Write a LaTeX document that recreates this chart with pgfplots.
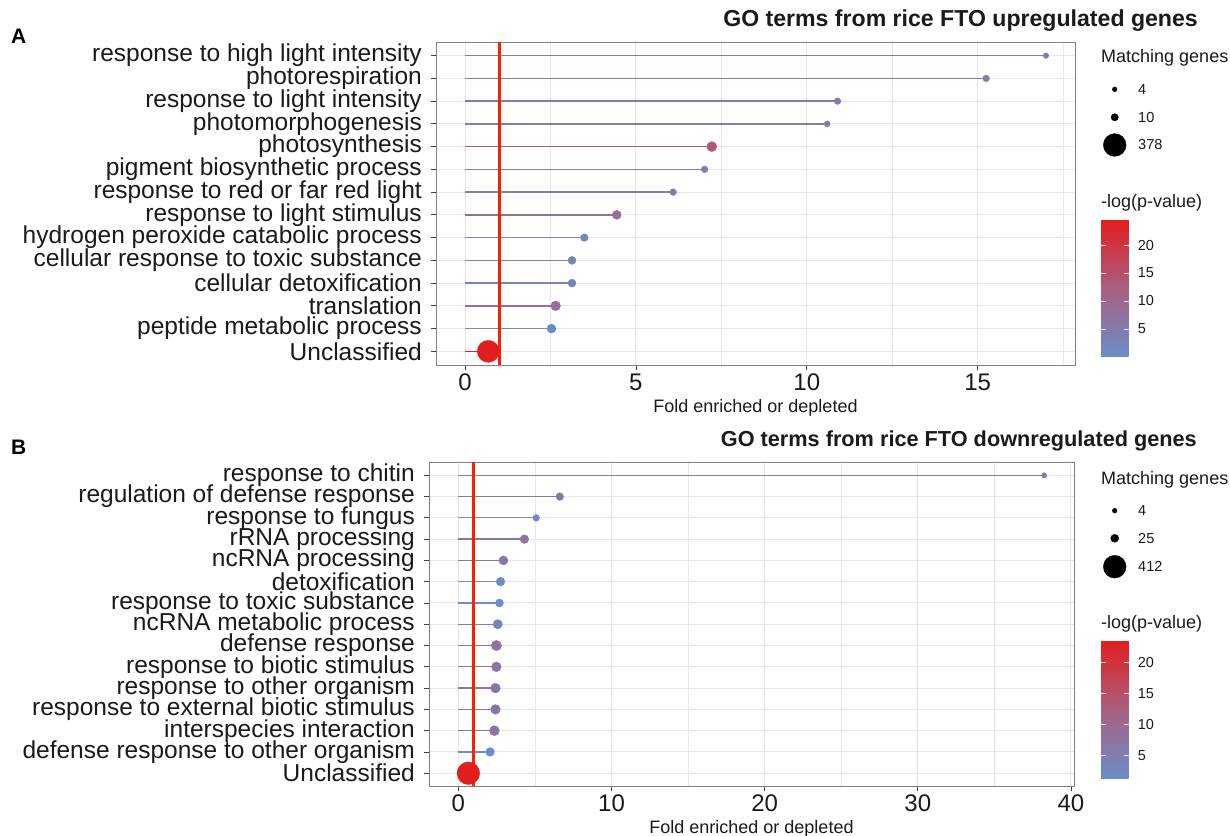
\documentclass[border=0pt]{standalone}
\usepackage{pgfplots}
\pgfplotsset{compat=1.18}
\usepackage{pgfplotstable}
\usepackage{fontspec}
\setmainfont{Liberation Sans}
\usetikzlibrary{calc}
\definecolor{vred}{RGB}{255,30,0}
\definecolor{gridc}{RGB}{232,232,232}
\definecolor{txt}{RGB}{26,26,26}
\pgfplotsset{colormap={gor}{rgb255(0cm)=(106,142,200); rgb255(1cm)=(168,96,128); rgb255(2cm)=(226,30,30)}}
\newcommand{\fY}{\fontsize{24.5}{26}\selectfont}
\newcommand{\fX}{\fontsize{24}{26}\selectfont}
\newcommand{\fL}{\fontsize{18}{20}\selectfont}
\newcommand{\fS}{\fontsize{14.5}{16}\selectfont}

\pgfplotstableread{
y  fx    r     lp    z
14 17.00 2.75  4.8   0
13 15.25 3.35  5.5   0
12 10.90 3.35  5.0   0
11 10.60 3.00  4.5   0
10 7.22  5.00  14.0  0
9  7.01  3.35  4.0   0
8  6.09  3.35  4.0   0
7  4.44  4.50  8.5   0
6  3.49  3.85  2.0   0
5  3.13  4.00  3.0   0
4  3.13  4.00  3.0   0
3  2.65  4.85  8.0   0
2  2.53  4.50  0.5   0
1  0.68  11.0  24.6  0
}\dataA

\pgfplotstableread{
y  fx    r     lp    z
15 38.25 2.65  4.6   0
14 6.62  3.85  7.0   0
13 5.08  3.35  2.1   0
12 4.31  4.35  7.8   0
11 2.94  4.50  7.0   0
10 2.75  4.35  2.1   0
9  2.68  4.00  1.8   0
8  2.57  4.65  4.2   0
7  2.48  5.15  8.0   0
6  2.48  4.85  7.5   0
5  2.42  4.85  7.5   0
4  2.42  4.85  7.2   0
3  2.35  5.00  7.2   0
2  2.07  4.35  1.4   0
1  0.65  11.3  23.5  0
}\dataB

\pgfplotsset{
  lolli/.style={
    scale only axis,
    tick pos=left,
    tick align=outside,
    major tick length=5pt,
    minor tick length=0pt,
    tick style={black!75, line width=0.8pt},
    axis line style={black!50, line width=0.9pt},
    xmajorgrids, xminorgrids, ymajorgrids,
    major grid style={draw=gridc, line width=1pt},
    minor grid style={draw=gridc, line width=0.6pt},
    colormap name=gor,
    yticklabel style={font=\fY, text=txt, inner sep=0pt, xshift=-9pt},
    xticklabel style={font=\fX, text=txt},
    xlabel style={font=\fL, text=txt, at={(axis description cs:0.5,-0.133)}, anchor=center},
    /pgf/number format/assume math mode=true,
    colorbar,
    colorbar shift/.style={},
    colorbar/width=27.7pt,
  },
  cbar/.style={
    scale only axis,
    width=27.7pt,
    xmin=0, xmax=1, enlargelimits=false,
    ytick={5,10,15,20},
    axis line style={draw=none},
    ytick style={draw=white!85!gray, line width=0.8pt},
    major tick length=5pt,
    tick align=inside,
    ytick pos=both,
    yticklabel pos=right,
    yticklabel style={font=\fS, text=txt, anchor=west, inner sep=0pt, xshift=9pt},
    /pgf/number format/assume math mode=true,
  },
  lines/.style={quiver={u=\thisrow{fx}, v=\thisrow{z}, colored=mapped color}, line width=1.3pt, point meta=\thisrow{lp}},
  dots/.style={scatter, only marks, mark=*, point meta=\thisrow{lp},
    scatter/use mapped color={draw=mapped color, fill=mapped color},
    visualization depends on={\thisrow{r} \as \rad},
    scatter/@pre marker code/.append style={/tikz/mark size=\rad}},
}

\begin{document}
\begin{tikzpicture}
\path[use as bounding box] (0pt,0pt) rectangle (1230pt,835pt);

% Panel A
\begin{axis}[lolli,
  at={(436pt,470pt)}, anchor=south west,
  width=639pt, height=323pt,
  xmin=-0.85, xmax=17.85, ymin=0.4, ymax=14.6,
  xtick={0,5,10,15}, minor xtick={2.5,7.5,12.5,17.5},
  ytick={1,...,14},
  yticklabels={Unclassified, peptide metabolic process, translation, cellular detoxification, cellular response to toxic substance, hydrogen peroxide catabolic process, response to light stimulus, response to red or far red light, pigment biosynthetic process, photosynthesis, photomorphogenesis, response to light intensity, photorespiration, response to high light intensity},
  xlabel={Fold enriched or depleted},
  point meta min=0.05, point meta max=24.6,
  colorbar style={cbar, height=137.4pt, at={($(parent axis.north east)+(26pt,-177.3pt)$)}, anchor=north west},
]
\addplot[lines] table[x=z, y=y] {\dataA};
\addplot[dots] table[x=fx, y=y] {\dataA};
\addplot[draw=vred, line width=3pt] coordinates {(1,0.4) (1,14.6)};
\end{axis}

% Panel B
\begin{axis}[lolli,
  at={(429pt,49pt)}, anchor=south west,
  width=645pt, height=323.5pt,
  xmin=-1.92, xmax=40.2, ymin=0.4, ymax=15.6,
  xtick={0,10,20,30,40}, minor xtick={5,15,25,35},
  ytick={1,...,15},
  yticklabels={Unclassified, defense response to other organism, interspecies interaction, response to external biotic stimulus, response to other organism, response to biotic stimulus, defense response, ncRNA metabolic process, response to toxic substance, detoxification, ncRNA processing, rRNA processing, response to fungus, regulation of defense response, response to chitin},
  xlabel={Fold enriched or depleted},
  point meta min=1.4, point meta max=23.5,
  colorbar style={cbar, height=137.6pt, at={($(parent axis.north east)+(27pt,-178.2pt)$)}, anchor=north west},
]
\addplot[lines] table[x=z, y=y] {\dataB};
\addplot[dots] table[x=fx, y=y] {\dataB};
\addplot[draw=vred, line width=3pt] coordinates {(1,0.4) (1,15.6)};
\end{axis}

% Overlay: titles and size legends (pixel coordinates)
\begin{axis}[at={(0pt,0pt)}, anchor=south west, scale only axis,
  width=1230pt, height=835pt, xmin=0, xmax=1230, ymin=0, ymax=835,
  y dir=reverse, hide axis, clip=false]
\addplot[only marks, mark=*, black, mark size=2.35pt] coordinates {(1114.7,89.3) (1114.7,510.7)};
\addplot[only marks, mark=*, black, mark size=3.65pt] coordinates {(1114.7,117.3)};
\addplot[only marks, mark=*, black, mark size=4.0pt] coordinates {(1114.7,538.3)};
\addplot[only marks, mark=*, black, mark size=11.35pt] coordinates {(1114.7,145) (1114.7,566.7)};
\node[anchor=west, inner sep=0pt, font=\fontsize{21}{23}\selectfont\bfseries] at (11,36.7) {A};
\node[anchor=west, inner sep=0pt, font=\fontsize{21}{23}\selectfont\bfseries] at (11,447) {B};
\node[anchor=east, inner sep=0pt, font=\fontsize{23.1}{25}\selectfont\bfseries, text=txt] at (1198,21) {GO terms from rice FTO upregulated genes};
\node[anchor=east, inner sep=0pt, font=\fontsize{21.7}{24}\selectfont\bfseries, text=txt] at (1197,441) {GO terms from rice FTO downregulated genes};
\node[anchor=west, font=\fL, text=txt, inner sep=0pt] at (1101,58) {Matching genes};
\node[anchor=west, font=\fL, text=txt, inner sep=0pt] at (1101,202.7) {-log(p-value)};
\node[anchor=west, font=\fS, text=txt, inner sep=0pt] at (1138,89.3) {4};
\node[anchor=west, font=\fS, text=txt, inner sep=0pt] at (1138,117.3) {10};
\node[anchor=west, font=\fS, text=txt, inner sep=0pt] at (1138,145) {378};
\node[anchor=west, font=\fL, text=txt, inner sep=0pt] at (1101,480) {Matching genes};
\node[anchor=west, font=\fL, text=txt, inner sep=0pt] at (1101,624.3) {-log(p-value)};
\node[anchor=west, font=\fS, text=txt, inner sep=0pt] at (1138,510.7) {4};
\node[anchor=west, font=\fS, text=txt, inner sep=0pt] at (1138,538.3) {25};
\node[anchor=west, font=\fS, text=txt, inner sep=0pt] at (1138,566.7) {412};
\end{axis}
\end{tikzpicture}
\end{document}
